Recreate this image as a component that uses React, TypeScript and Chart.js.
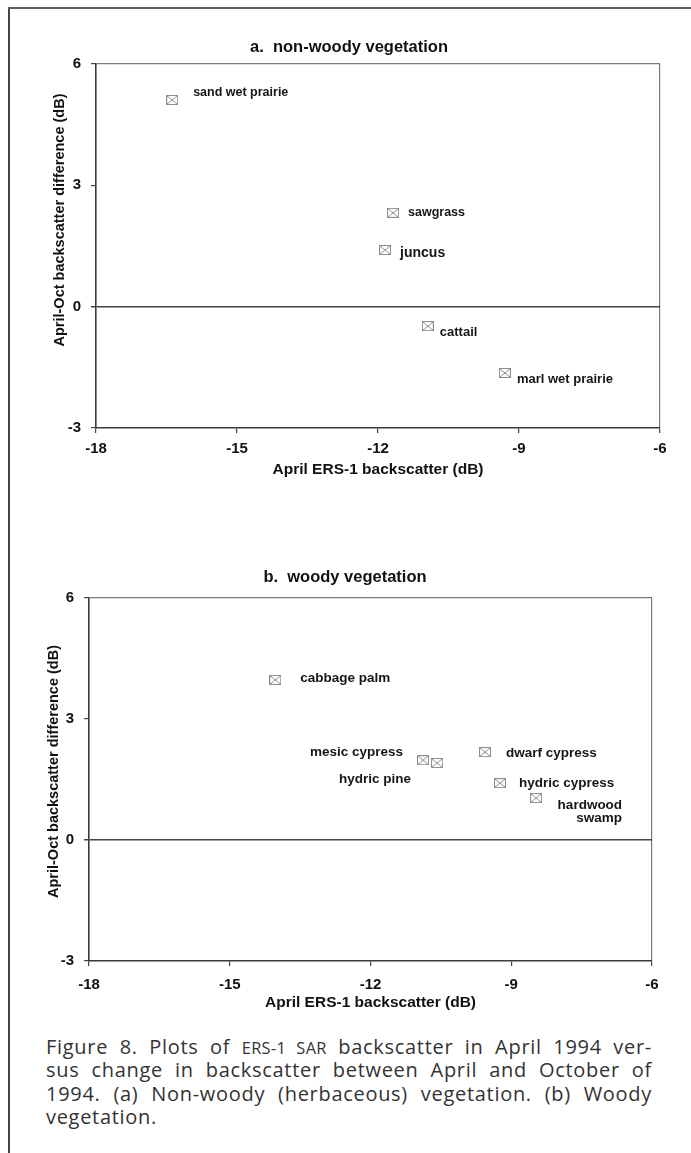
import React, { useEffect, useRef } from "react";
import { Chart, registerables } from "chart.js";

Chart.register(...registerables);

// ---------- data ----------
const X_TICKS = [-18, -15, -12, -9, -6];
const Y_TICKS = [-3, 0, 3, 6];

const nonWoodyNames = ["sand wet prairie", "sawgrass", "juncus", "cattail", "marl wet prairie"];
const nonWoodyApril = [-16.38, -11.68, -11.85, -10.94, -9.3];
const nonWoodyDiff = [5.11, 2.32, 1.4, -0.48, -1.64];

const woodyNames = ["cabbage palm", "mesic cypress", "hydric pine", "dwarf cypress", "hydric cypress", "hardwood\nswamp"];
const woodyApril = [-14.03, -10.88, -10.58, -9.56, -9.24, -8.47];
const woodyDiff = [3.97, 1.98, 1.91, 2.18, 1.41, 1.04];

const X_TITLE = "April ERS-1 backscatter (dB)";
const Y_TITLE = "April-Oct backscatter difference (dB)";

// ---------- label styles (offsets from marker, px) ----------
type LS = { dx: number; dy: number; align: CanvasTextAlign; size: number };
const nonWoodyLabelStyle: LS[] = [
  { dx: 21, dy: -7, align: "left", size: 12.5 },
  { dx: 15, dy: 0, align: "left", size: 12.5 },
  { dx: 15, dy: 3, align: "left", size: 14 },
  { dx: 12, dy: 6, align: "left", size: 13 },
  { dx: 12, dy: 6, align: "left", size: 13 },
];
const woodyLabelStyle: LS[] = [
  { dx: 25, dy: -2, align: "left", size: 13.5 },
  { dx: -20, dy: -8, align: "right", size: 13.5 },
  { dx: -26, dy: 16, align: "right", size: 13.5 },
  { dx: 21, dy: 1, align: "left", size: 13.5 },
  { dx: 19, dy: 0, align: "left", size: 13.5 },
  { dx: 86, dy: 7, align: "right", size: 13.5 },
];

const FONT = '"Liberation Sans", Arial, Helvetica, sans-serif';

function makeMarker(): HTMLCanvasElement {
  const c = document.createElement("canvas");
  c.width = 12;
  c.height = 10;
  const g = c.getContext("2d")!;
  g.strokeStyle = "#8e8e8e";
  g.lineWidth = 1;
  g.strokeRect(0.5, 0.5, 11, 9);
  g.beginPath();
  g.moveTo(1, 1);
  g.lineTo(11, 9);
  g.moveTo(11, 1);
  g.lineTo(1, 9);
  g.stroke();
  return c;
}

type Params = {
  title: string;
  names: string[];
  xs: number[];
  ys: number[];
  styles: LS[];
  L: number;
  R: number;
  yW: number;
  xH: number;
  titlePadTop: number;
  titlePadBottom: number;
  yTitleX: number;
  yTitleShift: number;
  xTitlePadBottom: number;
  xTickPad: number;
  yTickPad: number;
};

function buildChart(canvas: HTMLCanvasElement, p: Params) {
  const marker = makeMarker();
  const labelPlugin = {
    id: "pointLabels",
    afterDatasetsDraw(chart: any) {
      const meta = chart.getDatasetMeta(0);
      const ctx = chart.ctx as CanvasRenderingContext2D;
      ctx.save();
      meta.data.forEach((el: any, i: number) => {
        const st = p.styles[i];
        const lines = p.names[i].split("\n");
        ctx.font = `bold ${st.size}px ${FONT}`;
        ctx.fillStyle = "#161616";
        ctx.textAlign = st.align;
        ctx.textBaseline = "middle";
        lines.forEach((ln, j) => {
          ctx.fillText(ln, el.x + st.dx, el.y + st.dy + j * st.size * 0.98);
        });
      });
      ctx.restore();
    },
  };
  const yTitlePlugin = {
    id: "yTitle",
    afterDraw(chart: any) {
      const ctx = chart.ctx as CanvasRenderingContext2D;
      const a = chart.chartArea;
      ctx.save();
      ctx.translate(p.yTitleX, (a.top + a.bottom) / 2 + p.yTitleShift);
      ctx.rotate(-Math.PI / 2);
      ctx.font = `bold 14.5px ${FONT}`;
      ctx.fillStyle = "#111";
      ctx.textAlign = "center";
      ctx.textBaseline = "middle";
      ctx.fillText(Y_TITLE, 0, 0);
      ctx.restore();
    },
  };

  return new Chart(canvas, {
    type: "scatter",
    data: {
      datasets: [
        {
          data: p.xs.map((x, i) => ({ x, y: p.ys[i] })),
          pointStyle: marker as any,
          pointRadius: 6,
          showLine: false,
        },
      ],
    },
    plugins: [labelPlugin, yTitlePlugin],
    options: {
      animation: false,
      responsive: false,
      devicePixelRatio: 1,
      layout: { padding: { left: p.L, right: p.R, top: 0, bottom: 0 } },
      plugins: {
        legend: { display: false },
        tooltip: { enabled: false },
        title: {
          display: true,
          text: p.title,
          color: "#111",
          font: { family: FONT, size: 16.5, weight: "bold", lineHeight: 1.2 },
          padding: { top: p.titlePadTop, bottom: p.titlePadBottom },
        },
      },
      scales: {
        x: {
          type: "linear",
          min: -18,
          max: -6,
          afterBuildTicks: (s: any) => {
            s.ticks = X_TICKS.map((v) => ({ value: v }));
          },
          afterFit: (s: any) => {
            s.height = p.xH;
          },
          ticks: {
            color: "#111",
            font: { family: FONT, size: 15, weight: "bold" },
            padding: p.xTickPad,
            maxRotation: 0,
          },
          grid: {
            color: (c: any) => (c.tick && c.tick.value === -6 ? "#7a7a7a" : "rgba(0,0,0,0)"),
            lineWidth: 1.2,
            tickColor: "#444",
            tickLength: 5,
          },
          border: { display: true, color: "#3a3a3a", width: 1.6 },
          title: {
            display: true,
            text: X_TITLE,
            color: "#111",
            font: { family: FONT, size: 15.5, weight: "bold", lineHeight: 1.2 },
            padding: { top: 0, bottom: p.xTitlePadBottom },
          },
        },
        y: {
          type: "linear",
          min: -3,
          max: 6,
          afterBuildTicks: (s: any) => {
            s.ticks = Y_TICKS.map((v) => ({ value: v }));
          },
          afterFit: (s: any) => {
            s.width = p.yW;
          },
          ticks: {
            color: "#111",
            font: { family: FONT, size: 15, weight: "bold" },
            padding: p.yTickPad,
          },
          grid: {
            color: (c: any) =>
              c.tick && c.tick.value === 0 ? "#444" : c.tick && c.tick.value === 6 ? "#7a7a7a" : "rgba(0,0,0,0)",
            lineWidth: (c: any) => (c.tick && c.tick.value === 0 ? 1.5 : 1.2),
            tickColor: "#444",
            tickLength: 5,
          },
          border: { display: true, color: "#3a3a3a", width: 1.6 },
          title: { display: false, text: Y_TITLE },
        },
      },
    },
  } as any);
}

export default function App() {
  const ref1 = useRef<HTMLCanvasElement>(null);
  const ref2 = useRef<HTMLCanvasElement>(null);

  useEffect(() => {
    const c1 = buildChart(ref1.current!, {
      title: "a.  non-woody vegetation",
      names: nonWoodyNames,
      xs: nonWoodyApril,
      ys: nonWoodyDiff,
      styles: nonWoodyLabelStyle,
      L: 38,
      R: 31,
      yW: 58,
      xH: 92,
      titlePadTop: 37.1,
      titlePadBottom: 7.1,
      yTitleX: 60,
      yTitleShift: -26,
      xTitlePadBottom: 40.7,
      xTickPad: 7,
      yTickPad: 10,
    });
    const c2 = buildChart(ref2.current!, {
      title: "b.  woody vegetation",
      names: woodyNames,
      xs: woodyApril,
      ys: woodyDiff,
      styles: woodyLabelStyle,
      L: 38,
      R: 39,
      yW: 51,
      xH: 59,
      titlePadTop: 47.1,
      titlePadBottom: 11.1,
      yTitleX: 54,
      yTitleShift: -8,
      xTitlePadBottom: 7.7,
      xTickPad: 10,
      yTickPad: 10,
    });
    return () => {
      c1.destroy();
      c2.destroy();
    };
  }, []);

  const captionLine: React.CSSProperties = {
    whiteSpace: "nowrap",
    textAlign: "justify",
    textAlignLast: "justify" as any,
    height: 23.3,
  };
  const sc: React.CSSProperties = { fontSize: "0.82em", letterSpacing: 0.3 };

  return (
    <div style={{ position: "absolute", left: 0, top: 0, width: 691, height: 1153, background: "#fff", overflow: "hidden" }}>
      <div style={{ position: "absolute", left: 8, top: 7, width: 2, height: 1146, background: "#444" }} />
      <div style={{ position: "absolute", left: 8, top: 7, width: 683, height: 2, background: "#5a5a5a" }} />
      <canvas ref={ref1} width={691} height={520} style={{ position: "absolute", left: 0, top: 0, width: 691, height: 520 }} />
      <canvas ref={ref2} width={691} height={500} style={{ position: "absolute", left: 0, top: 520, width: 691, height: 500 }} />
      <div
        style={{
          position: "absolute",
          left: 46,
          top: 1035,
          width: 606,
          fontFamily: '"Open Sans", "Liberation Sans", sans-serif',
          fontSize: 20,
          letterSpacing: 0.7,
          lineHeight: "23.3px",
          color: "#333",
        }}
      >
        <div style={captionLine}>
          Figure 8. Plots of <span style={sc}>ERS-1 SAR</span> backscatter in April 1994 ver-
        </div>
        <div style={captionLine}>sus change in backscatter between April and October of</div>
        <div style={captionLine}>1994. (a) Non-woody (herbaceous) vegetation. (b) Woody</div>
        <div style={{ whiteSpace: "nowrap", height: 23.3 }}>vegetation.</div>
      </div>
    </div>
  );
}
